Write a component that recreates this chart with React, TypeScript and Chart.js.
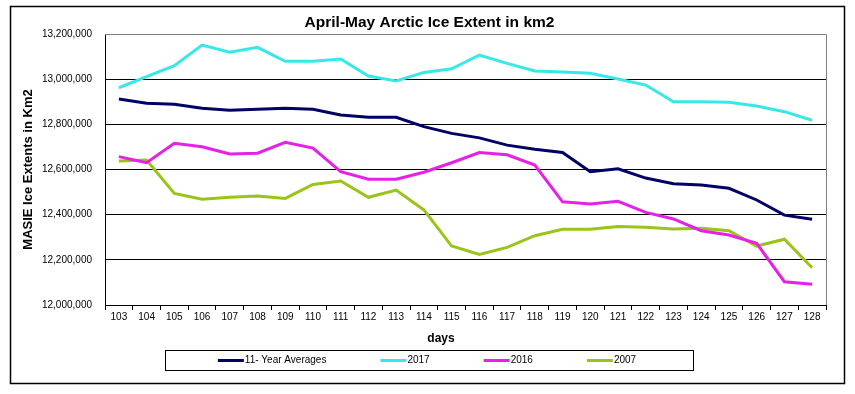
import React, { useEffect, useRef } from "react";
import { Chart, registerables } from "chart.js";

Chart.register(...registerables);

const chartTitle = "April-May Arctic Ice Extent in km2";
const xAxisTitle = "days";
const yAxisTitle = "MASIE Ice Extents in Km2";

const days = [
  "103", "104", "105", "106", "107", "108", "109", "110", "111", "112", "113", "114", "115",
  "116", "117", "118", "119", "120", "121", "122", "123", "124", "125", "126", "127", "128",
];

const avg11Year = [
  12912000, 12893000, 12889000, 12871000, 12862000, 12867000, 12871000, 12867000, 12841000,
  12831000, 12831000, 12790000, 12760000, 12740000, 12708000, 12690000, 12675000, 12590000,
  12603000, 12562000, 12537000, 12531000, 12517000, 12465000, 12398000, 12380000,
];
const ext2017 = [
  12962000, 13011000, 13060000, 13151000, 13119000, 13141000, 13079000, 13079000, 13089000,
  13014000, 12992000, 13030000, 13046000, 13107000, 13070000, 13036000, 13032000, 13026000,
  13001000, 12974000, 12900000, 12900000, 12898000, 12881000, 12856000, 12818000,
];
const ext2016 = [
  12657000, 12630000, 12716000, 12701000, 12669000, 12672000, 12720000, 12695000, 12590000,
  12557000, 12557000, 12588000, 12630000, 12675000, 12665000, 12620000, 12457000, 12447000,
  12459000, 12410000, 12381000, 12329000, 12310000, 12273000, 12103000, 12092000,
];
const ext2007 = [
  12638000, 12642000, 12494000, 12468000, 12477000, 12483000, 12472000, 12534000, 12549000,
  12477000, 12509000, 12421000, 12261000, 12224000, 12255000, 12307000, 12335000, 12335000,
  12348000, 12344000, 12337000, 12340000, 12329000, 12261000, 12291000, 12165000,
];

const seriesNames = ["11- Year Averages", "2017", "2016", "2007"];
const seriesColors = ["#000066", "#38E8E8", "#E620E6", "#9BC41A"];

const yMin = 12000000;
const yMax = 13200000;
const yStep = 200000;

const FONT = "'Liberation Sans', Arial, sans-serif";

const decorPlugin = {
  id: "decor",
  afterLayout(chart: any) {
    if (chart.titleBlock) {
      chart.titleBlock.left += 6;
      chart.titleBlock.right += 6;
    }
  },
  beforeDraw(chart: any) {
    const ctx = chart.ctx;
    ctx.save();
    ctx.fillStyle = "#ffffff";
    ctx.fillRect(0, 0, chart.width, chart.height);
    ctx.strokeStyle = "#000000";
    ctx.lineWidth = 1.5;
    ctx.strokeRect(10.5, 6.5, chart.width - 21, chart.height - 17);
    ctx.restore();
  },
  beforeDatasetsDraw(chart: any) {
    const { ctx, chartArea } = chart;
    ctx.save();
    ctx.strokeStyle = "#808080";
    ctx.lineWidth = 1;
    ctx.beginPath();
    ctx.moveTo(chartArea.left, chartArea.top + 0.5);
    ctx.lineTo(chartArea.right + 0.5, chartArea.top + 0.5);
    ctx.lineTo(chartArea.right + 0.5, chartArea.bottom);
    ctx.stroke();
    ctx.restore();
  },
  afterDraw(chart: any) {
    const { ctx, chartArea } = chart;
    const center = chart.width / 2 + 1.5;
    ctx.save();
    // x-axis title
    ctx.fillStyle = "#000";
    ctx.font = `bold 12px ${FONT}`;
    ctx.textAlign = "center";
    ctx.textBaseline = "middle";
    ctx.fillText(xAxisTitle, center + 12, chartArea.bottom + 34);

    // legend
    ctx.font = `10px ${FONT}`;
    const lineLen = 26;
    const textGap = 1;
    const gap = 54;
    const items = chart.data.datasets.map((d: any) => ({
      label: d.label as string,
      color: d.borderColor as string,
      w: lineLen + textGap + ctx.measureText(d.label).width,
    }));
    const total = items.reduce((a: number, it: any) => a + it.w, 0) + gap * (items.length - 1);
    const boxW = total + 110;
    const boxTop = chartArea.bottom + 45;
    const boxH = 20;
    ctx.strokeStyle = "#000";
    ctx.lineWidth = 1;
    ctx.strokeRect(Math.round(center - boxW / 2) + 0.5, boxTop + 0.5, Math.round(boxW), boxH);
    let x = center - total / 2 - 2;
    const yMid = boxTop + boxH / 2 + 0.5;
    ctx.textAlign = "left";
    ctx.textBaseline = "middle";
    items.forEach((it: any) => {
      ctx.strokeStyle = it.color;
      ctx.lineWidth = 3;
      ctx.beginPath();
      ctx.moveTo(x, yMid);
      ctx.lineTo(x + lineLen, yMid);
      ctx.stroke();
      ctx.fillStyle = "#000";
      ctx.fillText(it.label, x + lineLen + textGap, yMid);
      x += it.w + gap;
    });
    ctx.restore();
  },
};

export default function App() {
  const ref = useRef<HTMLCanvasElement>(null);
  useEffect(() => {
    document.body.style.margin = "0";
    const seriesData = [avg11Year, ext2017, ext2016, ext2007];
    const chart = new Chart(ref.current as HTMLCanvasElement, {
      type: "line",
      data: {
        labels: days,
        datasets: seriesData.map((d, i) => ({
          label: seriesNames[i],
          data: d,
          borderColor: seriesColors[i],
          backgroundColor: seriesColors[i],
          borderWidth: 3,
          pointRadius: 0,
          tension: 0,
          fill: false,
        })),
      },
      options: {
        responsive: false,
        animation: false,
        devicePixelRatio: 1,
        layout: { padding: { left: 21, right: 29, top: 0, bottom: 49 } },
        plugins: {
          legend: { display: false },
          tooltip: { enabled: false },
          title: {
            display: true,
            text: chartTitle,
            color: "#000",
            font: { family: FONT, size: 15.5, weight: "bold" },
            padding: { top: 13.7, bottom: 1.7 },
          },
        },
        scales: {
          x: {
            type: "category",
            offset: true,
            grid: {
              display: true,
              drawOnChartArea: false,
              drawTicks: true,
              tickLength: 5,
              color: "#000",
              offset: true,
            },
            border: { display: true, color: "#000" },
            ticks: {
              color: "#000",
              font: { family: FONT, size: 10 },
              padding: 1,
              maxRotation: 0,
              autoSkip: false,
            },
            afterFit: (s: any) => {
              s.height = 40;
            },
          },
          y: {
            min: yMin,
            max: yMax,
            ticks: {
              stepSize: yStep,
              padding: 13,
              color: "#000",
              font: { family: FONT, size: 10 },
              callback: (v: any) => Number(v).toLocaleString("en-US"),
            },
            grid: {
              drawTicks: false,
              color: (c: any) => (c.tick && c.tick.value === yMax ? "#808080" : "#000"),
            },
            border: { display: true, color: "#000" },
            title: {
              display: true,
              text: yAxisTitle,
              color: "#000",
              font: { family: FONT, size: 13, weight: "bold" },
              padding: { top: 0, bottom: 0 },
            },
            afterFit: (s: any) => {
              s.width = 84;
            },
          },
        },
      },
      plugins: [decorPlugin],
    });
    return () => chart.destroy();
  }, []);
  return <canvas ref={ref} width={855} height={394} style={{ display: "block" }} />;
}
